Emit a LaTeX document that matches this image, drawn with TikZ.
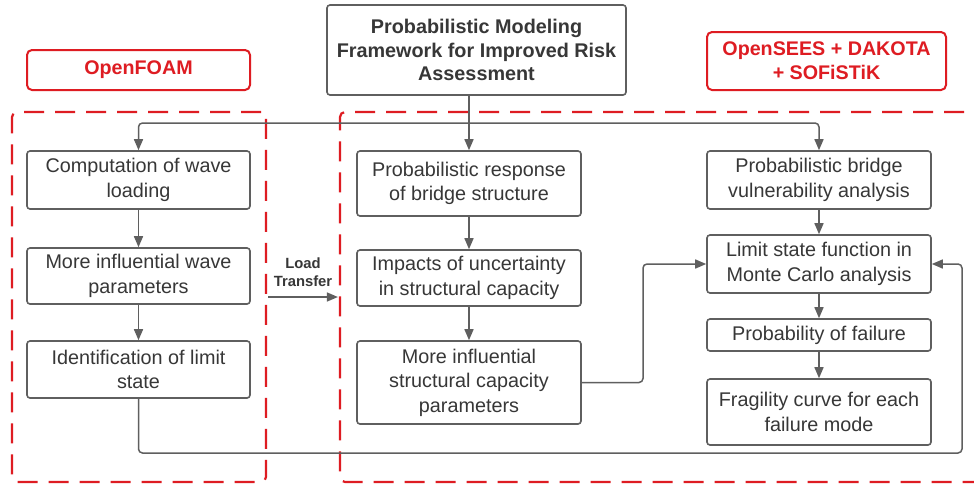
\documentclass[tikz,border=0pt]{standalone}
\usepackage{fontspec}
\setmainfont{Liberation Sans}
\usetikzlibrary{arrows.meta}
\definecolor{gc}{RGB}{95,95,95}
\definecolor{tc}{RGB}{55,55,55}
\definecolor{rc}{RGB}{222,28,34}
\tikzset{
  box/.style={draw=gc, line width=1.6pt, rounded corners=3pt, align=center, inner sep=0pt, text=tc, font=\fontsize{19.8}{24.5}\selectfont},
  tag/.style={draw=rc, line width=2pt, rounded corners=5pt, align=center, inner sep=0pt, text=rc, font=\bfseries\fontsize{19.7}{24}\selectfont},
  region/.style={draw=rc, line width=2.2pt, dash pattern=on 20pt off 11pt, rounded corners=5pt, inner sep=0pt},
  conn/.style={draw=gc, line width=1.5pt, rounded corners=4pt},
  arr/.style={conn, -{Triangle[length=11pt,width=9pt]}},
}
\begin{document}
\begin{tikzpicture}[x=1pt,y=-1pt]
\clip (0,0) rectangle (974,485);
\fill[white] (0,0) rectangle (974,485);
% regions
\node[region, minimum width=254pt, minimum height=370pt] (L) at (139,297) {};
\node[region, minimum width=660pt, minimum height=370pt] (R) at (670,297) {};
% tags
\node[tag, minimum width=223pt, minimum height=40pt] (of) at (138.5,70) {OpenFOAM};
\node[tag, minimum width=239pt, minimum height=58pt] (os) at (826.5,61) {OpenSEES + DAKOTA\\+ SOFiSTiK};
% title
\node[box, font=\bfseries\fontsize{19.8}{23.5}\selectfont, minimum width=299pt, minimum height=90pt] (t) at (476.5,50) {Probabilistic Modeling\\Framework for Improved Risk\\Assessment};
% left column
\node[box, minimum width=223pt, minimum height=58pt] (b1) at (138.5,180) {Computation of wave\\loading};
\node[box, minimum width=223pt, minimum height=56pt] (b2) at (138.5,276) {More influential wave\\parameters};
\node[box, minimum width=223pt, minimum height=57pt] (b3) at (138.5,369.5) {Identification of limit\\state};
% middle column
\node[box, minimum width=224pt, minimum height=65pt] (b4) at (469,183.5) {Probabilistic response\\of bridge structure};
\node[box, minimum width=224pt, minimum height=56pt] (b5) at (469,278) {Impacts of uncertainty\\in structural capacity};
\node[box, minimum width=224pt, minimum height=83pt] (b6) at (469,382.5) {More influential\\structural capacity\\parameters};
% right column
\node[box, minimum width=224pt, minimum height=58pt] (r1) at (819,180) {Probabilistic bridge\\vulnerability analysis};
\node[box, minimum width=224pt, minimum height=58pt] (r2) at (819,264) {Limit state function in\\Monte Carlo analysis};
\node[box, minimum width=224pt, minimum height=32pt] (r3) at (819,335) {Probability of failure};
\node[box, minimum width=224pt, minimum height=66pt] (r4) at (819,412) {Fragility curve for each\\failure mode};
% label
\node[text=tc, font=\bfseries\fontsize{14.8}{18}\selectfont, align=center] (lt) at (303,272) {Load\\Transfer};
% connectors
\coordinate (j) at (469,123);
\draw[conn] (t.south -| j) -- (j);
\draw[arr] (j) -| (b1.north);
\draw[arr] (j) -| (r1.north);
\draw[arr] (j) -- (b4.north);
\draw[arr] (b1) -- (b2);
\draw[arr] (b2) -- (b3);
\draw[arr] (b4) -- (b5);
\draw[arr] (b5) -- (b6);
\draw[arr] (r1) -- (r2);
\draw[arr] (r2) -- (r3);
\draw[arr] (r3) -- (r4);
\draw[arr] ([xshift=1pt]L.east) -- ([xshift=-1pt]L.east -| R.west);
\coordinate (mid) at (643,264);
\draw[arr] (b6.east) -| (mid) -- (r2.west);
\coordinate (fb) at (962,453);
\draw[arr] (b3.south) |- (fb) |- (r2.east);
\end{tikzpicture}
\end{document}
